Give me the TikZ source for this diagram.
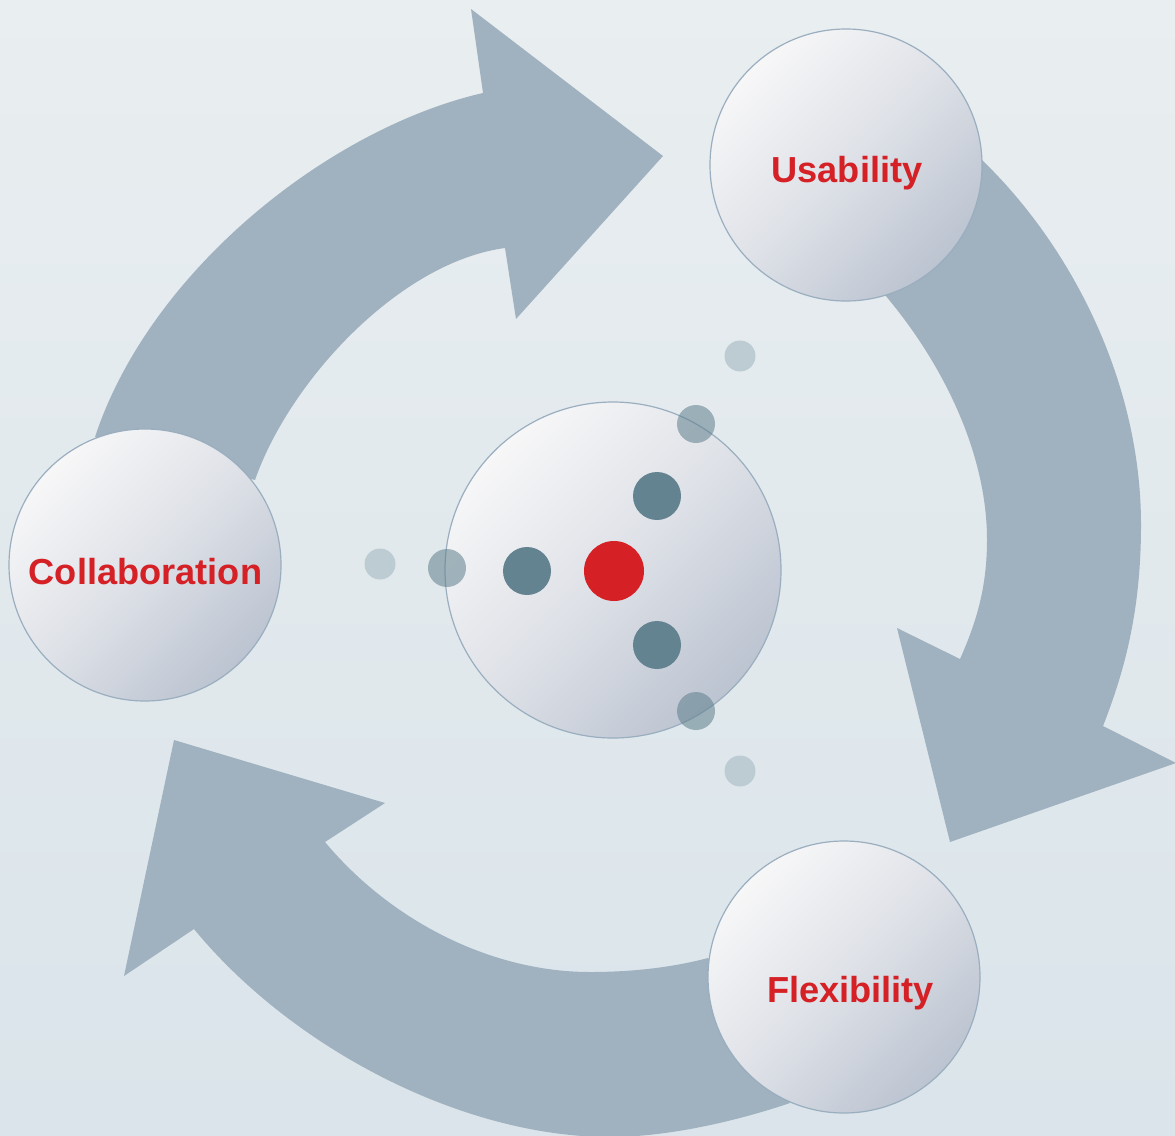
\documentclass[tikz,border=0pt]{standalone}
\usepackage{fontspec}
\setmainfont{Liberation Sans}
\definecolor{bgtop}{HTML}{E9EEF0}
\definecolor{bgbot}{HTML}{DAE4EA}
\definecolor{arrowc}{HTML}{A0B1BF}
\definecolor{bubtop}{HTML}{F7F7F8}
\definecolor{bubmid}{HTML}{DEE1E7}
\definecolor{bubbot}{HTML}{BCC4D1}
\definecolor{bubline}{HTML}{9AAEBF}
\definecolor{labred}{HTML}{D52026}
\definecolor{dotdark}{HTML}{648390}
\definecolor{dotmed}{HTML}{5F7F8C}
\definecolor{dotlight}{HTML}{BDCCD3}
\tikzset{
  bubble/.style={circle, draw=bubline, line width=1.2pt, top color=bubtop, bottom color=bubbot, middle color=bubmid, shading angle=45, inner sep=0pt},
  lab/.style={anchor=base, text=labred, font=\fontsize{36.2}{40}\selectfont\bfseries, inner sep=0pt},
  arrowshape/.style={fill=arrowc},
  dotred/.style={circle, fill=labred, inner sep=0pt, minimum size=60pt},
  dotd/.style={circle, fill=dotdark, inner sep=0pt, minimum size=48pt},
  dotm/.style={circle, fill=dotmed, fill opacity=0.55, inner sep=0pt, minimum size=38pt},
  dotl/.style={circle, fill=dotlight, inner sep=0pt, minimum size=31pt}
}
\begin{document}
\begin{tikzpicture}[x=1pt,y=-1pt]
\useasboundingbox (0,0) rectangle (1175,1135);
\shade[top color=bgtop, bottom color=bgbot] (0,0) rectangle (1175,1135);
% arrows
\fill[arrowshape] (95,437) .. controls (150,270) and (330,128) .. (483,93) -- (471,9) -- (663,156) -- (516,319) -- (505,248) .. controls (400,262) and (290,380) .. (255,480) -- cycle;
\fill[arrowshape] (982,160) .. controls (1070,245) and (1141,380) .. (1141,525) .. controls (1141,610) and (1125,670) .. (1103,726) -- (1176,763) -- (950,842) -- (897,628) -- (960,659) .. controls (975,625) and (987,590) .. (987,540) .. controls (987,450) and (940,360) .. (885,295) -- cycle;
\fill[arrowshape] (708,958) .. controls (670,968) and (630,972) .. (590,972) .. controls (490,972) and (390,920) .. (325,842) -- (385,803) -- (174,740) -- (124,976) -- (194,929) .. controls (290,1046) and (460,1137) .. (610,1137) .. controls (670,1137) and (740,1120) .. (790,1103) -- cycle;
% bubbles
\node[bubble, minimum size=272pt] (usab) at (846,165) {};
\node[bubble, minimum size=272pt] (collab) at (145,565) {};
\node[bubble, minimum size=272pt] (flex) at (844,977) {};
\node[bubble, minimum size=336pt] (core) at (613,570) {};
% dots
\node[dotl] (l1) at (380,564) {};
\node[dotl] (l2) at (740,356) {};
\node[dotl] (l3) at (740,771) {};
\node[dotm] (m1) at (447,568) {};
\node[dotm] (m2) at (696,424) {};
\node[dotm] (m3) at (696,711) {};
\node[dotd] (d1) at (527,571) {};
\node[dotd] (d2) at (657,496) {};
\node[dotd] (d3) at (657,645) {};
\node[dotred] (red) at (614,571) {};
% labels
\node[lab] (tusab) at (847,182) {Usability};
\node[lab] (tcollab) at (145.5,584) {Collaboration};
\node[lab] (tflex) at (850.5,1002) {Flexibility};
\end{tikzpicture}
\end{document}
